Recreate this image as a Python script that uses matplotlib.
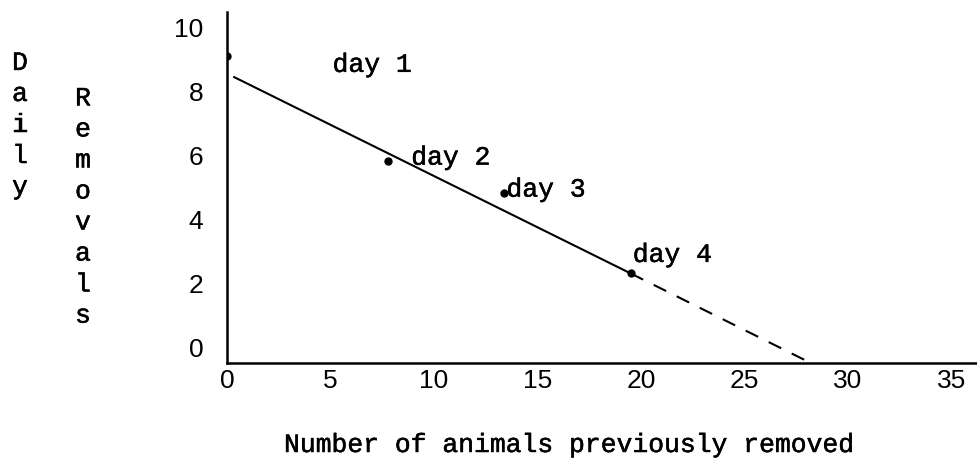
import matplotlib
matplotlib.use("Agg")
import matplotlib.pyplot as plt
import matplotlib.patheffects as pe

# data
day_x = [0.0, 7.8, 13.4, 19.5]
day_y = [9.1, 5.8, 4.8, 2.3]
day_labels = ["day 1", "day 2", "day 3", "day 4"]
label_x = [5.1, 8.9, 13.5, 19.6]
label_y = [8.6, 5.7, 4.7, 2.66]
fit_x = [0.3, 19.5]
fit_y = [8.45, 2.3]
ext_x = [19.5, 28.2]
ext_y = [2.3, -0.5]
x_ticks = [0, 5, 10, 15, 20, 25, 30, 35]
y_ticks = [0, 2, 4, 6, 8, 10]

mono = "Liberation Mono"
sans = "Liberation Sans"
thick = [pe.withStroke(linewidth=0.35, foreground="black")]

fig = plt.figure(figsize=(9.77, 4.59), dpi=100)
ax = fig.add_axes([227/977, 96/459, 750/977, 351/459])
ax.set_xlim(0, 36.23)
ax.set_ylim(-0.5, 10.47)

lw = 1.5
ax.plot(fit_x, fit_y, color="black", lw=lw, solid_capstyle="butt")
ax.plot(ext_x, ext_y, color="black", lw=lw, linestyle=(0, (10/lw, 8.5/lw)))
ax.plot(day_x, day_y, "o", color="black", ms=5, zorder=5)

for t, x, y in zip(day_labels, label_x, label_y):
    ax.text(x, y, t, fontfamily=mono, fontsize=19, ha="left", va="baseline",
            path_effects=thick)

for s in ["top", "right"]:
    ax.spines[s].set_visible(False)
for s in ["left", "bottom"]:
    ax.spines[s].set_linewidth(1.8)

ax.set_xticks(x_ticks)
ax.set_yticks(y_ticks)
ax.tick_params(axis="both", length=0, labelsize=19)
ax.tick_params(axis="x", pad=4)
ax.tick_params(axis="y", pad=17)
for lab in ax.get_xticklabels() + ax.get_yticklabels():
    lab.set_fontfamily(sans)

fig.text(284/977, 1 - 452/459, "Number of animals previously removed",
         fontfamily=mono, fontsize=19, ha="left", va="baseline", path_effects=thick)
fig.text(20/977, 1 - 125/459, "\n".join("Daily"), fontfamily=mono, fontsize=19,
         ha="center", va="center", linespacing=1.37, path_effects=thick)
fig.text(83/977, 1 - 207/459, "\n".join("Removals"), fontfamily=mono, fontsize=19,
         ha="center", va="center", linespacing=1.37, path_effects=thick)

fig.savefig("out.png", dpi=100)
